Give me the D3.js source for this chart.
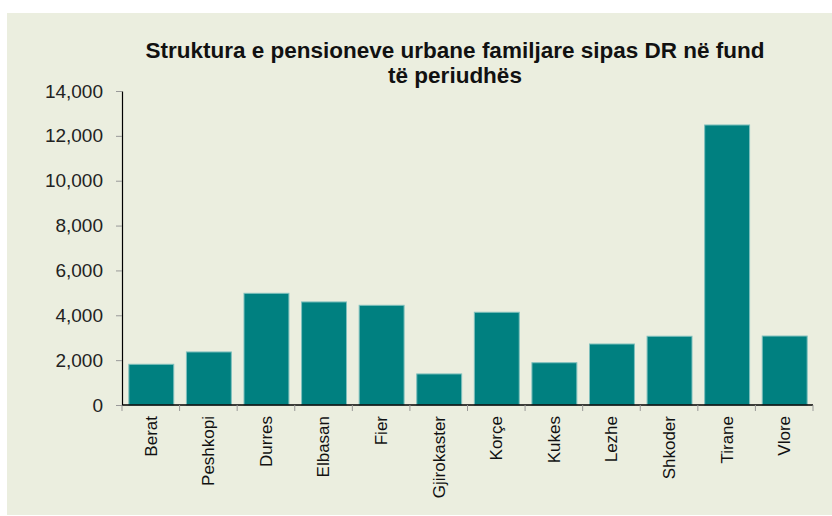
<!DOCTYPE html>
<html><head><meta charset="utf-8">
<script src="https://cdn.jsdelivr.net/npm/d3@7"></script>
<style>body{margin:0;background:#fff;}svg{display:block;}</style>
</head><body>
<svg id="chart" width="832" height="516"></svg>
<script>
const categories = ["Berat","Peshkopi","Durres","Elbasan","Fier","Gjirokaster","Korçe","Kukes","Lezhe","Shkoder","Tirane","Vlore"];
const values = [1815, 2365, 4980, 4595, 4445, 1385, 4135, 1885, 2720, 3065, 12485, 3075];
const yTicks = [0, 2000, 4000, 6000, 8000, 10000, 12000, 14000];
const titleLines = ["Struktura e pensioneve urbane familjare sipas DR në fund", "të periudhës"];

const svg = d3.select("#chart");
svg.append("rect").attr("x",7).attr("y",13).attr("width",825).attr("height",502).attr("fill","#ebeedf");

const x0 = 122, x1 = 813, yTop = 91, yBot = 405;
const x = d3.scaleBand().domain(categories).range([x0, x1]).paddingInner(0.22).paddingOuter(0.11);
const y = d3.scaleLinear().domain([0, 14000]).range([yBot, yTop]);

svg.append("g").selectAll("rect").data(values).join("rect")
  .attr("x",(d,i)=>x(categories[i])+0.5)
  .attr("y",d=>y(d))
  .attr("width",x.bandwidth())
  .attr("height",d=>yBot-y(d))
  .attr("fill","#008080")
  .attr("stroke","#7fc0bd").attr("stroke-width",1);

const font = "Arial, 'Liberation Sans', sans-serif";
// y axis
const ya = svg.append("g").attr("transform",`translate(${x0},0)`)
  .call(d3.axisLeft(y).tickValues(yTicks).tickFormat(d3.format(",")).tickSize(6).tickSizeOuter(0).tickPadding(13));
ya.select(".domain").attr("stroke","#000").attr("stroke-width",1.2);
ya.selectAll(".tick line").attr("stroke","#999");
ya.selectAll("text").attr("font-family",font).attr("font-size",19).attr("fill","#222");

// x axis
const xa = svg.append("g").attr("transform",`translate(0,${yBot})`)
  .call(d3.axisBottom(x).tickSize(0).tickSizeOuter(0));
xa.select(".domain").attr("stroke","#000").attr("stroke-width",1.5).attr("d",`M${x0},0H${x1}`);
xa.selectAll(".tick text")
  .attr("font-family",font).attr("font-size",17).attr("fill","#111")
  .attr("transform","rotate(-90)").attr("text-anchor","end")
  .attr("x",-11).attr("y",0).attr("dy","0.35em");
// category boundary ticks
const bounds = d3.range(categories.length+1).map(i => x0 + i*(x1-x0)/categories.length);
svg.append("g").selectAll("line").data(bounds).join("line")
  .attr("x1",d=>d).attr("x2",d=>d).attr("y1",yBot).attr("y2",yBot+6)
  .attr("stroke","#999");

svg.append("g").selectAll("text").data(titleLines).join("text")
  .attr("x",455).attr("y",(d,i)=>58+i*25)
  .attr("text-anchor","middle").attr("font-family",font)
  .attr("font-weight","bold").attr("font-size",22.5).attr("fill","#111")
  .text(d=>d);
</script>
</body></html>
